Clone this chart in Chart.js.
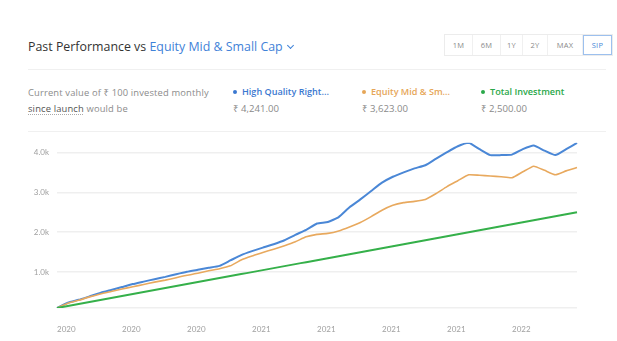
<!DOCTYPE html>
<html>
<head>
<meta charset="utf-8">
<script src="https://cdn.jsdelivr.net/npm/chart.js@4.4.1/dist/chart.umd.min.js"></script>
<style>
  html, body { margin: 0; padding: 0; background: #fff; }
  body { width: 617px; height: 341px; position: relative; overflow: hidden; font-family: "Open Sans", "Noto Sans", sans-serif; }
  .abs { position: absolute; white-space: nowrap; }
  .title { left: 28px; top: 38px; font-size: 12.4px; color: #333; font-weight: 500; }
  .title .peer { color: #3f82d8; }
  .chev { display: inline-block; width: 4px; height: 4px; border-right: 1.5px solid #3f82d8; border-bottom: 1.5px solid #3f82d8; transform: rotate(45deg); margin-left: 5px; position: relative; top: -3px; }
  .tabs { left: 444px; top: 34px; height: 20px; border: 1px solid #ececec; display: flex; font-size: 7.5px; color: #8a8a8a; }
  .tabs div { display: flex; align-items: center; justify-content: center; border-right: 1px solid #f0f0f0; letter-spacing: 0.3px; }
  .tabs div:last-child { border-right: none; }
  .tabs .on { color: #4a8ad8; outline: 1px solid #9cc0ee; outline-offset: -1px; }
  .rule { left: 28px; width: 578px; height: 1px; background: #f0f0f0; }
  .desc { left: 28px; top: 85px; font-size: 9.4px; color: #8c8c8c; line-height: 16px; letter-spacing: 0.15px; }
  .desc u { color: #555; text-decoration: underline dotted #aaa; text-underline-offset: 2px; }
  .leg { top: 86px; font-size: 9.1px; font-weight: 600; line-height: 12px; }
  .leg i { display: inline-block; width: 4px; height: 4px; border-radius: 50%; margin-right: 5px; position: relative; top: -1px; }
  .val { top: 102px; font-size: 9.6px; color: #8a8a8a; line-height: 13px; }
  #wrap { position: absolute; left: 20px; top: 130px; width: 570px; height: 211px; }
</style>
</head>
<body>
<div class="abs title">Past Performance vs <span class="peer">Equity Mid &amp; Small Cap</span><span class="chev"></span></div>
<div class="abs tabs">
  <div style="width:27px">1M</div><div style="width:27px">6M</div><div style="width:21px">1Y</div>
  <div style="width:24px">2Y</div><div style="width:34px">MAX</div><div style="width:29px" class="on">SIP</div>
</div>
<div class="abs rule" style="top:69px"></div>
<div class="abs desc">Current value of ₹ 100 invested monthly<br><u>since launch</u> would be</div>
<div class="abs leg" style="left:233px;color:#3a78d0"><i style="background:#3a78d0"></i>High Quality Right...</div>
<div class="abs leg" style="left:362px;color:#e6a658"><i style="background:#e6a658"></i>Equity Mid &amp; Sm...</div>
<div class="abs leg" style="left:481px;color:#2aa84a"><i style="background:#2aa84a"></i>Total Investment</div>
<div class="abs val" style="left:233px">₹ 4,241.00</div>
<div class="abs val" style="left:362px">₹ 3,623.00</div>
<div class="abs val" style="left:481px">₹ 2,500.00</div>
<div class="abs rule" style="top:131px"></div>
<div id="wrap"><canvas id="sip-chart"></canvas></div>

<script>
// half-monthly SIP valuation points, May 2020 to May 2022
const periods = [
  '01 May 20', '16 May 20', '01 Jun 20', '16 Jun 20', '01 Jul 20', '16 Jul 20', '01 Aug 20', '16 Aug 20',
  '01 Sep 20', '16 Sep 20', '01 Oct 20', '16 Oct 20', '01 Nov 20', '16 Nov 20', '01 Dec 20', '16 Dec 20',
  '01 Jan 21', '16 Jan 21', '01 Feb 21', '16 Feb 21', '01 Mar 21', '16 Mar 21', '01 Apr 21', '16 Apr 21',
  '01 May 21', '16 May 21', '01 Jun 21', '16 Jun 21', '01 Jul 21', '16 Jul 21', '01 Aug 21', '16 Aug 21',
  '01 Sep 21', '16 Sep 21', '01 Oct 21', '16 Oct 21', '01 Nov 21', '16 Nov 21', '01 Dec 21', '16 Dec 21',
  '01 Jan 22', '16 Jan 22', '01 Feb 22', '16 Feb 22', '01 Mar 22', '16 Mar 22', '01 Apr 22', '16 Apr 22',
  '01 May 22'
];

const fundValue = [
  100, 231, 305, 391, 478, 552, 626, 700, 762, 823, 880, 947, 1009, 1058, 1107, 1157,
  1292, 1428, 1527, 1614, 1700, 1799, 1935, 2058, 2218, 2255, 2379, 2626, 2823, 3033, 3243, 3391,
  3502, 3601, 3680, 3848, 4008, 4157, 4243, 4083, 3934, 3934, 3947, 4083, 4174, 4046, 3934, 4083,
  4241
];

const categoryValue = [
  100, 218, 293, 379, 453, 515, 577, 633, 688, 749, 799, 860, 922, 972, 1033, 1083,
  1157, 1305, 1404, 1490, 1576, 1663, 1762, 1885, 1947, 1971, 2033, 2132, 2243, 2391, 2552, 2675,
  2742, 2774, 2823, 2971, 3144, 3292, 3441, 3428, 3411, 3391, 3366, 3515, 3656, 3552, 3441, 3539,
  3623
];

const invested = [
  100, 150, 200, 250, 300, 350, 400, 450, 500, 550, 600, 650, 700, 750, 800, 850,
  900, 950, 1000, 1050, 1100, 1150, 1200, 1250, 1300, 1350, 1400, 1450, 1500, 1550, 1600, 1650,
  1700, 1750, 1800, 1850, 1900, 1950, 2000, 2050, 2100, 2150, 2200, 2250, 2300, 2350, 2400, 2450,
  2500
];

const xTickLabels = ['2020', '2020', '2020', '2021', '2021', '2021', '2021', '2022'];
const yTicks = [100, 1000, 2000, 3000, 4000];

const xStep = 6; // one year label every quarter

function lineSet(label, data, color, width) {
  return {
    label: label,
    data: data,
    borderColor: color,
    borderWidth: width,
    pointRadius: 0,
    pointHoverRadius: 0,
    tension: 0.15,
    fill: false
  };
}

new Chart(document.getElementById('sip-chart'), {
  type: 'line',
  data: {
    labels: periods,
    datasets: [
      lineSet('Total Investment', invested, '#35b04a', 2),
      lineSet('Equity Mid & Small Cap', categoryValue, '#e8a95e', 1.6),
      lineSet('High Quality Rights', fundValue, '#4a87d6', 2)
    ]
  },
  options: {
    responsive: true,
    maintainAspectRatio: false,
    animation: false,
    layout: { padding: { top: 8, right: 13, bottom: 0, left: 0 } },
    plugins: {
      legend: { display: false },
      tooltip: { enabled: false }
    },
    scales: {
      x: {
        grid: { display: false },
        border: { display: false },
        afterBuildTicks: function (scale) {
          scale.ticks = scale.ticks.filter((t, i) => i % xStep === 0 && i < periods.length - 1);
        },
        afterFit: function (scale) { scale.height = 33; },
        ticks: {
          autoSkip: false,
          maxRotation: 0,
          align: 'start',
          padding: 9,
          color: '#a0a0a0',
          font: { family: 'Lato', size: 8 },
          callback: function (value, index) { return xTickLabels[index]; }
        }
      },
      y: {
        min: 100,
        max: Math.max(...fundValue),
        border: { display: false },
        grid: { color: '#efefef', lineWidth: 1.6, drawTicks: false },
        afterBuildTicks: function (scale) {
          scale.ticks = yTicks.map(v => ({ value: v }));
        },
        afterFit: function (scale) { scale.width = 37; },
        ticks: {
          padding: 8,
          color: '#a0a0a0',
          font: { family: 'Lato', size: 8 },
          callback: function (value) {
            return value < 1000 ? '' : (value / 1000).toFixed(1) + 'k';
          }
        }
      }
    }
  }
});
</script>
</body>
</html>
